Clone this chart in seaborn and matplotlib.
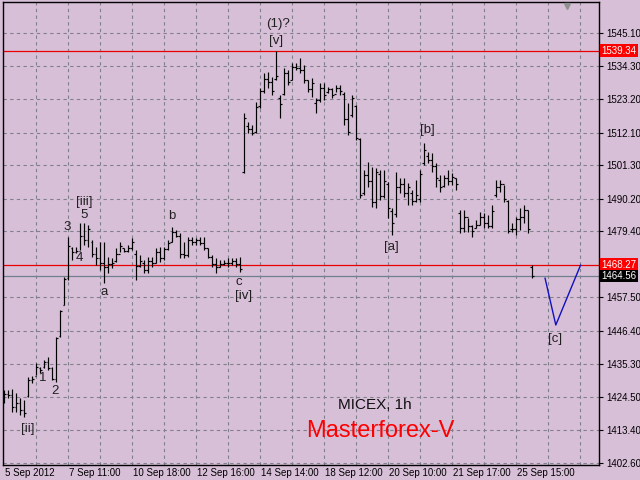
import matplotlib
matplotlib.use("Agg")
import matplotlib.pyplot as plt
import matplotlib.transforms as mtrans
import seaborn as sns
import numpy as np

# ---------------- data (MICEX, 1h bars) ----------------
highs = [1426.7, 1426.7, 1427.0, 1425.7, 1424.0, 1423.4, 1431.0, 1431.4, 1435.7, 1434.3,
         1436.7, 1437.7, 1434.4, 1444.3, 1453.3, 1464.2, 1477.5, 1474.2, 1474.2, 1482.1,
         1482.1, 1481.5, 1476.5, 1474.2, 1475.8, 1475.8, 1470.9, 1470.5, 1473.8, 1475.8,
         1473.8, 1474.8, 1477.2, 1473.2, 1471.5, 1469.9, 1470.9, 1470.9, 1473.8, 1474.2,
         1474.2, 1476.5, 1480.8, 1479.8, 1478.8, 1475.8, 1477.5, 1477.5, 1477.2, 1477.5,
         1477.5, 1473.8, 1471.5, 1470.5, 1469.9, 1469.9, 1470.5, 1470.5, 1470.5, 1470.9,
         1518.6, 1515.6, 1514.6, 1522.3, 1526.9, 1531.9, 1532.3, 1530.6, 1539.3, 1524.6,
         1533.6, 1532.9, 1535.2, 1535.2, 1536.9, 1534.6, 1529.6, 1530.3, 1523.6, 1528.6,
         1528.6, 1527.3, 1526.9, 1527.9, 1527.9, 1525.6, 1522.0, 1524.6, 1521.3, 1510.4,
         1499.7, 1502.4, 1500.7, 1500.4, 1499.7, 1499.7, 1495.7, 1487.1, 1499.1, 1497.1,
         1497.1, 1495.4, 1493.1, 1496.4, 1499.7, 1508.7, 1505.7, 1505.4, 1502.0, 1498.1,
         1498.1, 1499.7, 1498.7, 1497.1, 1486.4, 1486.4, 1483.8, 1481.5, 1483.1, 1485.8,
         1485.4, 1484.8, 1488.1, 1496.4, 1496.4, 1494.8, 1489.8, 1482.1, 1484.1, 1487.1,
         1488.1, 1486.4, 1468.2]
lows = [1422.4, 1424.0, 1419.4, 1419.4, 1418.4, 1417.8, 1424.4, 1429.0, 1431.7, 1432.4,
        1434.0, 1433.4, 1430.0, 1429.4, 1444.3, 1454.9, 1463.2, 1469.9, 1472.2, 1473.2,
        1474.8, 1474.2, 1470.9, 1468.2, 1466.5, 1462.2, 1465.5, 1467.2, 1469.2, 1472.5,
        1472.5, 1472.5, 1473.2, 1463.2, 1467.5, 1465.5, 1465.5, 1467.5, 1468.9, 1469.2,
        1469.9, 1473.2, 1475.8, 1477.5, 1470.5, 1470.5, 1470.9, 1474.8, 1474.8, 1474.8,
        1473.2, 1470.5, 1467.5, 1465.5, 1467.5, 1468.2, 1467.5, 1468.2, 1467.5, 1465.9,
        1498.7, 1512.0, 1511.3, 1512.0, 1520.3, 1525.3, 1526.9, 1524.6, 1529.6, 1517.0,
        1524.6, 1527.9, 1529.6, 1532.9, 1531.9, 1528.6, 1525.6, 1524.0, 1518.6, 1522.3,
        1523.0, 1525.3, 1523.6, 1525.6, 1524.6, 1514.6, 1511.3, 1517.3, 1509.7, 1490.4,
        1491.4, 1494.1, 1487.4, 1487.1, 1489.8, 1490.4, 1483.8, 1478.1, 1484.1, 1492.1,
        1490.8, 1488.1, 1488.1, 1489.1, 1489.1, 1501.4, 1502.0, 1499.1, 1494.1, 1492.4,
        1494.1, 1494.8, 1494.8, 1493.1, 1478.8, 1479.1, 1479.1, 1477.5, 1480.5, 1481.5,
        1480.5, 1480.5, 1480.5, 1490.8, 1492.4, 1489.1, 1478.8, 1479.1, 1478.1, 1479.8,
        1482.1, 1478.8, 1463.9]
opens = [1424.0, 1425.5, 1425.0, 1421.0, 1422.5, 1420.0, 1424.8, 1430.0, 1431.5, 1434.0,
         1434.5, 1436.0, 1434.0, 1430.5, 1444.5, 1455.0, 1464.0, 1474.0, 1472.5, 1473.0,
         1478.0, 1476.5, 1476.0, 1472.0, 1470.5, 1469.0, 1467.5, 1468.5, 1469.5, 1472.0,
         1474.0, 1473.0, 1474.0, 1472.0, 1468.0, 1469.0, 1466.5, 1469.5, 1469.0, 1472.5,
         1470.5, 1473.5, 1476.0, 1479.0, 1478.0, 1472.0, 1471.5, 1476.5, 1476.0, 1476.5,
         1475.5, 1474.0, 1471.0, 1468.5, 1467.5, 1468.5, 1469.0, 1469.0, 1469.5, 1468.5,
         1499.0, 1514.5, 1513.5, 1512.5, 1521.0, 1526.0, 1530.0, 1529.0, 1530.0, 1523.5,
         1525.0, 1532.0, 1529.5, 1534.0, 1533.5, 1533.0, 1529.5, 1526.5, 1522.0, 1523.0,
         1527.0, 1525.5, 1526.5, 1525.0, 1527.0, 1525.0, 1516.5, 1518.0, 1521.0, 1510.0,
         1492.0, 1498.0, 1496.0, 1489.0, 1498.5, 1491.0, 1495.0, 1486.0, 1485.0, 1494.0,
         1495.0, 1492.0, 1492.0, 1489.5, 1490.0, 1502.0, 1504.5, 1503.0, 1501.0, 1496.5,
         1494.5, 1497.0, 1496.0, 1497.0, 1485.5, 1480.5, 1484.0, 1481.0, 1480.5, 1481.5,
         1484.0, 1482.0, 1481.0, 1491.5, 1494.0, 1495.0, 1489.5, 1480.0, 1480.0, 1483.5,
         1484.0, 1486.5, 1467.5]
closes = [1425.5, 1425.0, 1421.0, 1422.5, 1420.0, 1419.0, 1430.0, 1430.5, 1434.5, 1433.5,
          1436.0, 1434.0, 1430.5, 1444.0, 1453.0, 1463.5, 1474.5, 1472.5, 1473.0, 1478.0,
          1476.5, 1480.0, 1472.0, 1470.5, 1469.0, 1467.5, 1468.5, 1469.0, 1472.0, 1474.5,
          1473.0, 1474.0, 1476.0, 1468.0, 1469.5, 1466.5, 1469.5, 1469.0, 1472.5, 1470.5,
          1473.5, 1475.5, 1479.0, 1478.0, 1472.0, 1471.5, 1476.5, 1476.0, 1476.5, 1475.5,
          1474.0, 1471.0, 1468.5, 1467.5, 1468.5, 1469.0, 1469.0, 1469.5, 1468.5, 1467.0,
          1517.0, 1513.5, 1512.0, 1520.5, 1526.0, 1530.0, 1529.0, 1526.0, 1531.0, 1521.5,
          1532.0, 1529.0, 1534.0, 1533.5, 1533.0, 1529.5, 1526.5, 1528.5, 1523.0, 1527.0,
          1524.5, 1526.5, 1524.5, 1527.0, 1526.0, 1516.5, 1512.5, 1523.5, 1510.5, 1491.5,
          1498.0, 1496.0, 1489.0, 1499.0, 1491.0, 1496.0, 1487.0, 1482.0, 1494.0, 1495.0,
          1492.0, 1494.0, 1489.5, 1491.5, 1498.5, 1506.5, 1503.0, 1501.0, 1497.0, 1494.0,
          1497.0, 1496.0, 1497.5, 1495.0, 1480.5, 1484.0, 1481.0, 1479.5, 1481.5, 1484.0,
          1482.0, 1481.0, 1486.0, 1494.0, 1495.0, 1490.0, 1479.5, 1480.0, 1483.5, 1484.0,
          1486.5, 1480.0, 1464.56]

x_tick_labels = ["5 Sep 2012", "7 Sep 11:00", "10 Sep 18:00", "12 Sep 16:00",
                 "14 Sep 14:00", "18 Sep 12:00", "20 Sep 10:00", "21 Sep 17:00",
                 "25 Sep 15:00"]
y_tick_values = [1545.10, 1534.30, 1523.20, 1512.10, 1501.30, 1490.20, 1479.40,
                 1457.50, 1446.40, 1435.30, 1424.50, 1413.40, 1402.60]
red_levels = [1539.34, 1468.27]
bid_level = 1464.56

# projected [c] leg (trend lines into the future), bar index / price
v_bars = [135.2, 137.9, 144.1]
v_prices = [1463.9, 1448.3, 1468.2]

wave_labels = ["1", "2", "[ii]", "3", "[iii]", "5", "4", "a", "b", "c", "[iv]",
               "(1)?", "[v]", "[a]", "[b]", "[c]"]
wave_x = [9.7, 12.7, 5.9, 15.7, 19.9, 19.9, 18.7, 24.9, 41.9, 58.7, 59.7,
          68.4, 67.9, 96.9, 105.7, 137.7]
wave_y = [1430.7, 1426.4, 1413.8, 1480.8, 1489.1, 1484.8, 1470.5, 1459.2, 1484.5,
          1462.6, 1457.9, 1548.2, 1542.5, 1474.2, 1513.0, 1443.6]

# ---------------- style ----------------
BG = "#D8BFD8"
sns.set_style("white", {"axes.facecolor": BG, "figure.facecolor": BG,
                        "axes.edgecolor": "black"})
plt.rcParams["font.family"] = ["Liberation Sans", "DejaVu Sans"]

fig = plt.figure(figsize=(6.4, 4.8), dpi=100)
fig.patch.set_facecolor(BG)
ax = fig.add_axes([3 / 640, 15 / 480, 596 / 640, 463 / 480])
ax.set_facecolor(BG)

n = len(highs)
idx = np.arange(n)

ax.set_xlim(-0.33, 148.7)
ax.set_ylim(1401.84, 1555.49)

# grid
grid_kw = dict(color="#80808c", lw=0.8, ls=(0, (3, 3)), zorder=1)
for v in y_tick_values:
    ax.axhline(v, **grid_kw)
for g in range(8, 149, 8):
    ax.axvline(g, **grid_kw)

# level lines
for lv in red_levels:
    ax.axhline(lv, color="#E80000", lw=0.9, zorder=2)
ax.axhline(bid_level, color="#708090", lw=0.9, zorder=2)

# OHLC bars
ax.vlines(idx, lows, highs, color="black", lw=0.85, zorder=3)
ax.hlines(opens, idx - 0.45, idx, color="black", lw=0.85, zorder=3)
ax.hlines(closes, idx, idx + 0.45, color="black", lw=0.85, zorder=3)

# projected leg
sns.lineplot(x=v_bars, y=v_prices, sort=False, estimator=None, ax=ax,
             color="#1010C0", lw=1.0, zorder=4)

# wave labels
for t, xx, yy in zip(wave_labels, wave_x, wave_y):
    ax.text(xx, yy, t, ha="center", va="center", fontsize=9.5, color="#202020",
            zorder=5)

ax.text(92.7, 1421.9, "MICEX, 1h", ha="center", va="center", fontsize=11,
        color="#101010")
ax.text(93.9, 1413.1, "Masterforex-V", ha="center", va="center", fontsize=17,
        color="#FF0000")

# chart-shift marker
ax.plot([140.7], [1554.0], marker="v", color="#909090", ms=5, clip_on=False,
        zorder=6)

# axes ticks
ax.yaxis.tick_right()
ax.set_yticks(y_tick_values)
ax.set_yticklabels([f"{v:.2f}" for v in y_tick_values])
ax.tick_params(axis="y", length=3, width=0.8, pad=2, labelsize=7, colors="black")
ax.set_xticks([16 * k for k in range(len(x_tick_labels))])
ax.set_xticklabels([])
ax.tick_params(axis="x", length=3, width=0.8, direction="out")
tr = mtrans.blended_transform_factory(ax.transData, ax.transAxes)
for k, lab in enumerate(x_tick_labels):
    ax.text(16 * k + 0.1, -0.007, lab, transform=tr, ha="left", va="top",
            fontsize=7, color="black")

# price labels boxed on the right
tr_y = mtrans.blended_transform_factory(ax.transAxes, ax.transData)
for lv in red_levels:
    ax.text(1.004, lv, f"{lv:.2f}", transform=tr_y, ha="left", va="center",
            fontsize=7, color="white", clip_on=False,
            bbox=dict(boxstyle="square,pad=0.15", fc="#FF0000", ec="none"))
ax.text(1.004, bid_level, f"{bid_level:.2f}", transform=tr_y, ha="left",
        va="center", fontsize=7, color="white", clip_on=False,
        bbox=dict(boxstyle="square,pad=0.15", fc="black", ec="none"))

for s in ax.spines.values():
    s.set_color("black")
    s.set_linewidth(1.0)
ax.set_xlabel("")
ax.set_ylabel("")

fig.savefig("out.png", dpi=100, facecolor=BG)
